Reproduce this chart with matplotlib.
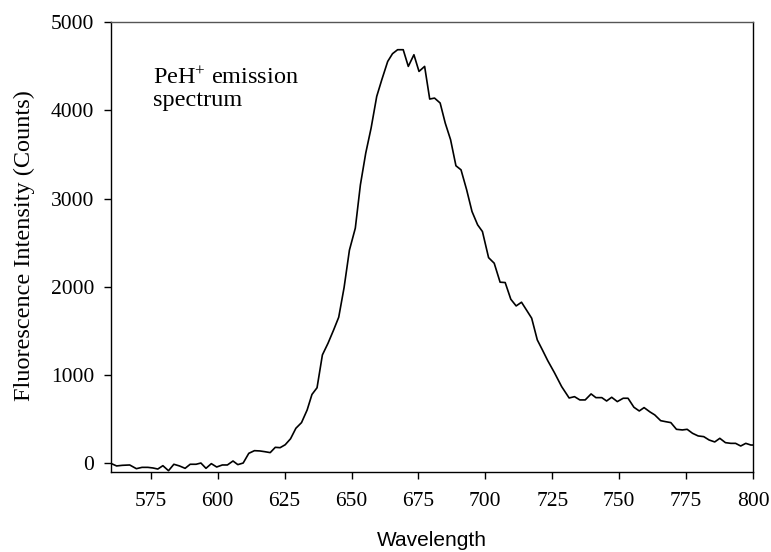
import matplotlib
matplotlib.use("Agg")
import matplotlib.pyplot as plt

# Data
wavelength = [560.0, 562.2, 564.3, 567.1, 569.6, 571.7, 573.9, 575.8, 577.6, 579.5,
              581.6, 583.6, 585.7, 587.8, 589.7, 591.9, 593.7, 595.6, 597.6, 599.6,
              601.7, 603.6, 605.7, 607.5, 609.5, 611.6, 613.7, 615.7, 617.5, 619.6,
              621.5, 623.3, 625.2, 627.2, 629.2, 631.3, 633.4, 635.2, 637.1, 639.1,
              641.2, 643.3, 645.2, 647.2, 649.2, 651.4, 653.3, 655.3, 657.3, 659.4,
              661.3, 663.5, 665.3, 667.2, 669.3, 671.2, 673.3, 675.2, 677.3, 679.2,
              681.0, 683.1, 685.0, 687.0, 689.0, 690.9, 693.0, 695.0, 697.1, 698.9,
              701.2, 703.3, 705.5, 707.4, 709.5, 711.5, 713.5, 715.5, 717.3, 719.4,
              721.3, 723.3, 725.8, 728.5, 731.3, 733.3, 735.3, 737.3, 739.5, 741.3,
              743.5, 745.3, 747.2, 749.3, 751.5, 753.3, 755.5, 757.5, 759.3, 761.5,
              763.3, 765.5, 767.3, 769.3, 771.4, 773.6, 775.4, 777.4, 779.5, 781.6,
              783.6, 785.7, 787.6, 789.7, 791.7, 793.5, 795.4, 797.3, 799.2, 800.0]
intensity = [0, -30, -23, -19, -61, -46, -46, -53, -65, -27,
             -84, -11, -30, -57, -11, -11, 3, -57, -4, -42,
             -19, -19, 26, -15, 3, 113, 143, 140, 132, 121,
             181, 177, 210, 278, 397, 461, 604, 780, 856, 1228,
             1360, 1511, 1655, 1990, 2415, 2664, 3155, 3515, 3798, 4157,
             4346, 4553, 4641, 4686, 4686, 4497, 4629, 4440, 4497, 4127,
             4138, 4082, 3855, 3666, 3371, 3325, 3099, 2853, 2702, 2626,
             2330, 2267, 2052, 2048, 1859, 1783, 1825, 1730, 1644, 1398,
             1285, 1163, 1027, 869, 740, 755, 718, 718, 786, 744,
             744, 706, 748, 699, 737, 737, 635, 593, 631, 582,
             548, 483, 472, 461, 385, 378, 385, 340, 310, 302,
             264, 242, 283, 234, 226, 226, 196, 226, 207, 207]

x_ticks = [575, 600, 625, 650, 675, 700, 725, 750, 775, 800]
y_ticks = [0, 1000, 2000, 3000, 4000, 5000]

plt.rcParams['mathtext.fontset'] = 'custom'
plt.rcParams['mathtext.rm'] = 'Liberation Serif'
plt.rcParams['mathtext.it'] = 'Liberation Serif'

W, H = 771, 552
fig = plt.figure(figsize=(W / 100, H / 100), dpi=100)
left, right, top, bottom = 110.7, 753.0, 22.0, 472.3
ax = fig.add_axes([left / W, 1 - bottom / H, (right - left) / W, (bottom - top) / H])

ax.plot(wavelength, intensity, color='black', lw=1.2)
ax.set_xlim(560, 800)
ax.set_ylim(-102, 5000)
ax.set_xticks(x_ticks)
ax.set_yticks(y_ticks)
ax.tick_params(direction='out', length=5, width=1, color='black', pad=7)
ax.tick_params(axis='x', pad=9)
for lab in ax.get_xticklabels() + ax.get_yticklabels():
    lab.set_fontfamily('Liberation Serif')
    lab.set_fontsize(15.5)
for s in ax.spines.values():
    s.set_linewidth(1.0)
    s.set_color('black')
ax.spines['top'].set_color('#555555')

fig.text(431.9 / W, 1 - 541 / H, 'Wavelength', family='Liberation Sans', fontsize=15,
         ha='center', va='center')
fig.text(24.5 / W, 1 - 246 / H, 'Fluorescence Intensity (Counts)', family='Liberation Serif',
         fontsize=17.5, rotation=90, ha='center', va='center')

fig.text(153 / W, 1 - 84 / H, 'PeH$^{+}$ emission', family='Liberation Serif', fontsize=17.5,
         ha='left', va='baseline')
fig.text(153 / W, 1 - 106 / H, 'spectrum', family='Liberation Serif', fontsize=17.5,
         ha='left', va='baseline')

fig.savefig('out.png', dpi=100)
